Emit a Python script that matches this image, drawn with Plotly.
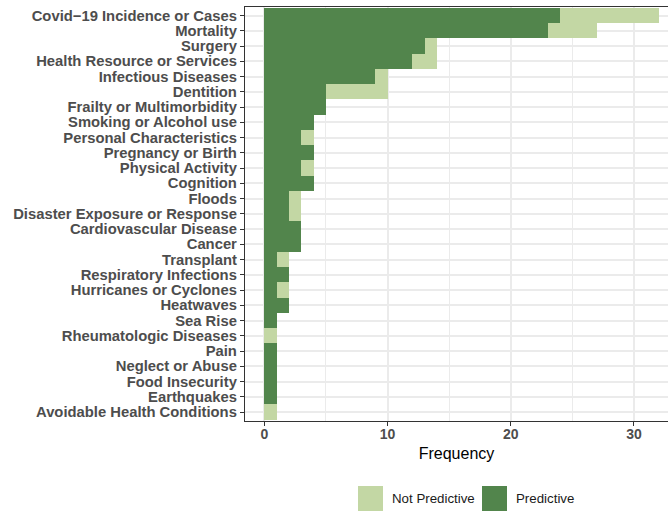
import plotly.graph_objects as go

categories = [
    "Covid\u221219 Incidence or Cases", "Mortality", "Surgery",
    "Health Resource or Services", "Infectious Diseases", "Dentition",
    "Frailty or Multimorbidity", "Smoking or Alcohol use",
    "Personal Characteristics", "Pregnancy or Birth", "Physical Activity",
    "Cognition", "Floods", "Disaster Exposure or Response",
    "Cardiovascular Disease", "Cancer", "Transplant",
    "Respiratory Infections", "Hurricanes or Cyclones", "Heatwaves",
    "Sea Rise", "Rheumatologic Diseases", "Pain", "Neglect or Abuse",
    "Food Insecurity", "Earthquakes", "Avoidable Health Conditions",
]
predictive = [24, 23, 13, 12, 9, 5, 5, 4, 3, 4, 3, 4, 2, 2, 3, 3, 1, 2, 1, 2,
              1, 0, 1, 1, 1, 1, 0]
not_predictive = [8, 4, 1, 2, 1, 5, 0, 0, 1, 0, 1, 0, 1, 1, 0, 0, 1, 0, 1, 0,
                  0, 1, 0, 0, 0, 0, 1]
x_ticks = [0, 10, 20, 30]

DARK = "#52854C"
LIGHT = "#C3D7A4"
FONT = "Liberation Sans"

fig = go.Figure()
fig.add_trace(go.Bar(y=categories, x=predictive, orientation="h", name="Predictive",
                     marker=dict(color=DARK, line=dict(width=0)), width=1,
                     showlegend=False))
fig.add_trace(go.Bar(y=categories, x=not_predictive, orientation="h",
                     name="Not Predictive",
                     marker=dict(color=LIGHT, line=dict(width=0)), width=1,
                     showlegend=False))

fig.update_layout(
    width=668, height=516,
    margin=dict(l=245, r=0, t=7, b=95),
    barmode="stack", bargap=0,
    plot_bgcolor="white", paper_bgcolor="white",
    font=dict(family=FONT, color="#000000"),
)
fig.update_xaxes(
    range=[-1.566, 32.76], tickvals=x_ticks, ticktext=[str(v) for v in x_ticks],
    showgrid=True, gridcolor="#EBEBEB", gridwidth=1.5,
    minor=dict(tickvals=[5, 15, 25], showgrid=True, gridcolor="#EBEBEB",
               gridwidth=1.2, ticks=""),
    zeroline=False,
    showline=True, linecolor="#333333", linewidth=1.3, mirror=True,
    ticks="outside", ticklen=4, tickwidth=1.3, tickcolor="#333333",
    ticklabelstandoff=-4,
    tickfont=dict(family=FONT, size=14, color="#4D4D4D", weight="bold"),
    title=dict(text="Frequency", font=dict(family=FONT, size=16, color="#000000"),
               standoff=6),
)
fig.update_yaxes(
    categoryorder="array", categoryarray=categories,
    tickmode="array", tickvals=categories, ticktext=categories,
    range=[26.59, -0.56],
    showgrid=True, gridcolor="#EBEBEB", gridwidth=1.5,
    zeroline=False,
    showline=True, linecolor="#333333", linewidth=1.3,
    ticks="outside", ticklen=4, tickwidth=1.3, tickcolor="#333333",
    tickfont=dict(family=FONT, size=14.8, color="#4D4D4D", weight="bold"),
)

# legend keys drawn below the panel
legend_items = [("Not Predictive", LIGHT, 358), ("Predictive", DARK, 482)]
for label, color, x0 in legend_items:
    fig.add_shape(type="rect", xref="paper", yref="paper",
                  x0=(x0 - 245) / 423, x1=(x0 + 25 - 245) / 423,
                  y0=(516 - 95 - 511) / 414, y1=(516 - 95 - 486) / 414,
                  fillcolor=color, line=dict(width=0), layer="above")
    fig.add_annotation(xref="paper", yref="paper", x=(x0 + 32 - 245) / 423,
                       y=(516 - 95 - 498.5) / 414, text=label, showarrow=False,
                       xanchor="left", yanchor="middle",
                       font=dict(family=FONT, size=13.3, color="#1A1A1A"))

fig.write_html("out.html")
